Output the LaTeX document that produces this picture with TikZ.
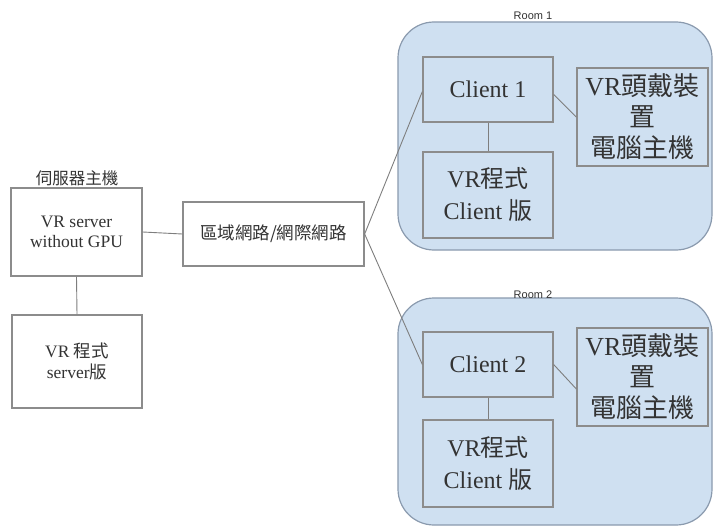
\documentclass[tikz,border=0pt]{standalone}
\usepackage{fontspec}
\setmainfont{Liberation Serif}
\newfontfamily\cjk{Noto Sans CJK TC}
\newfontfamily\roomfont{Liberation Sans}
\definecolor{roomfill}{HTML}{CFE0F1}
\definecolor{roomline}{HTML}{8A9AAE}
\definecolor{boxline}{HTML}{8C8C8C}
\definecolor{txt}{HTML}{333333}
\begin{document}
\begin{tikzpicture}[x=1pt,y=-1pt,
  box/.style={draw=boxline,line width=1.3pt,rectangle,inner sep=0pt,align=center,text=txt},
  room/.style={draw=roomline,fill=roomfill,line width=1.2pt,rounded corners=36pt},
  link/.style={draw=boxline!90!black,line width=0.9pt},
  roomlbl/.style={font=\roomfont\fontsize{11}{12}\selectfont,text=txt,inner sep=1pt}]
\useasboundingbox (0,0) rectangle (713,527);
\fill[white] (0,0) rectangle (713,527);
% rooms
\draw[room] (398,22) rectangle (712,250);
\draw[room] (398,298) rectangle (712,525);
\node[roomlbl] (r1) at (533,16) {Room 1};
\node[roomlbl] (r2) at (533,295) {Room 2};
% left
\node[text=txt,font=\cjk\fontsize{16.5}{18}\selectfont] (hostlbl) at (77,178) {伺服器主機};
\node[box,minimum width=131pt,minimum height=88pt,font=\fontsize{17.5}{20}\selectfont] (server) at (76.5,232) {VR server\\without GPU};
\node[box,minimum width=130pt,minimum height=93pt,font=\fontsize{17.5}{21}\selectfont] (progs) at (77,361.5) {VR {\cjk 程式}\\server{\cjk 版}};
\node[box,minimum width=181pt,minimum height=64pt,font=\cjk\fontsize{17.5}{20}\selectfont] (net) at (273.5,234) {區域網路/網際網路};
% room 1
\node[box,minimum width=130pt,minimum height=65pt,font=\fontsize{24}{28}\selectfont] (c1) at (488,89.5) {Client 1};
\node[box,minimum width=130pt,minimum height=86pt,font=\fontsize{24}{32}\selectfont] (p1) at (488,195) {VR{\cjk 程式}\\Client {\cjk 版}};
\node[box,minimum width=131pt,minimum height=98pt,font=\fontsize{26}{31}\selectfont] (h1) at (642.5,117) {VR{\cjk 頭戴裝}\\{\cjk 置}\\{\cjk 電腦主機}};
% room 2
\node[box,minimum width=130pt,minimum height=65pt,font=\fontsize{24}{28}\selectfont] (c2) at (488,364.5) {Client 2};
\node[box,minimum width=130pt,minimum height=87pt,font=\fontsize{24}{32}\selectfont] (p2) at (488,463.5) {VR{\cjk 程式}\\Client {\cjk 版}};
\node[box,minimum width=131pt,minimum height=98pt,font=\fontsize{26}{31}\selectfont] (h2) at (642.5,377) {VR{\cjk 頭戴裝}\\{\cjk 置}\\{\cjk 電腦主機}};
% connectors
\draw[link] (server.east) -- (net.west);
\draw[link] (server.south) -- (progs.north);
\draw[link] (net.east) -- ([yshift=-2pt]c1.west);
\draw[link] (net.east) -- (c2.west);
\draw[link] ([yshift=-5pt]c1.east) -- (h1.west);
\draw[link] (c1.south) -- (p1.north);
\draw[link] (c2.east) -- ([yshift=-12pt]h2.west);
\draw[link] (c2.south) -- (p2.north);
\end{tikzpicture}
\end{document}
